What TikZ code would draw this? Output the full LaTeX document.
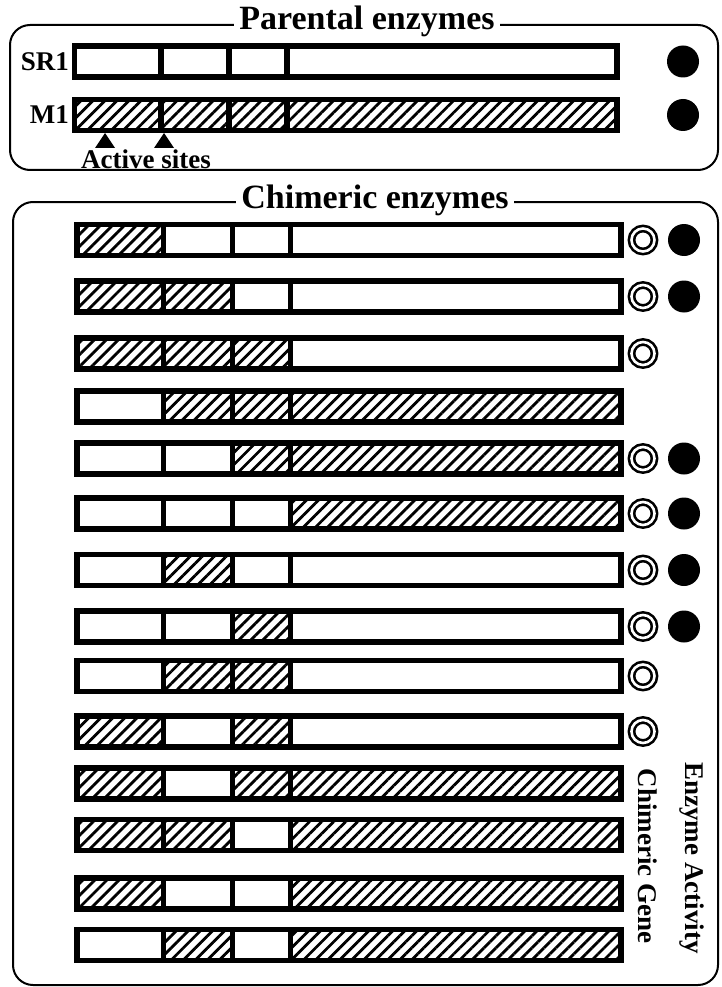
\documentclass[tikz,border=0pt]{standalone}
\usepackage{fontspec}
\setmainfont{Liberation Serif}
\usetikzlibrary{positioning,patterns.meta}

\begin{document}
\begin{tikzpicture}[x=1pt,y=-1pt,font=\bfseries,
seg/.style={draw,line width=5.5pt,minimum height=31pt,inner sep=0pt,outer sep=0pt},
hat/.style={pattern={Lines[angle=45,distance=8.5pt,line width=2.8pt]}},
blank/.style={},
ring/.style={circle,draw,double,double distance=2.6pt,line width=2.6pt,minimum size=23pt,inner sep=0pt},
dot/.style={circle,fill,minimum size=32pt,inner sep=0pt},
panel/.style={rounded corners=20pt,line width=2pt},
title/.style={fill=white,inner xsep=5pt,font=\fontsize{34pt}{40pt}\selectfont\bfseries},
lbl/.style={font=\fontsize{27pt}{32pt}\selectfont\bfseries}]
\useasboundingbox (0,0) rectangle (721,987);

% panels
\draw[panel] (10,25) rectangle (718,170);
\draw[panel] (13,202) rectangle (718,985);
\node[title,anchor=base] (ptitle) at (367,30) {Parental enzymes};
\node[title,anchor=base] (ctitle) at (375,208) {Chimeric enzymes};

% parental genes
\foreach \yc/\s/\name [count=\i] in {61.5/blank/SR1,115/hat/M1} {
\node[seg,\s,minimum width=86.5pt,anchor=west] (p\i-1) at (74.5,\yc) {};
\node[seg,\s,minimum width=68pt,right=0pt of p\i-1] (p\i-2) {};
\node[seg,\s,minimum width=58pt,right=0pt of p\i-2] (p\i-3) {};
\node[seg,\s,minimum width=330pt,right=0pt of p\i-3] (p\i-4) {};
\node[lbl,left=2pt of p\i-1] (pl\i) {\name};
\node[dot] (pd\i) at (683,\yc) {};
}
\fill (95,148) -- (105,133) -- (115,148) -- cycle;
\fill (154,148) -- (164,133) -- (174,148) -- cycle;
\node[lbl,anchor=base] (sites) at (146,168) {Active sites};

% chimeric genes: y / four segments / activity (0 none, 1 ring, 2 ring+dot)
\foreach \yc/\a/\b/\c/\d/\act [count=\i] in {
240/hat/blank/blank/blank/2, 296.5/hat/hat/blank/blank/2,
353.5/hat/hat/hat/blank/1, 406.5/blank/hat/hat/hat/0,
458.5/blank/blank/hat/hat/2, 513.5/blank/blank/blank/hat/2,
570/blank/hat/blank/blank/2, 626.5/blank/blank/hat/blank/2,
676/blank/hat/hat/blank/1, 731.5/hat/blank/hat/blank/1,
783.5/hat/blank/hat/hat/0, 835/hat/hat/blank/hat/0,
893.5/hat/blank/blank/hat/0, 945/blank/hat/blank/hat/0} {
\node[seg,\a,minimum width=86.5pt,anchor=west] (c\i-1) at (77,\yc) {};
\node[seg,\b,minimum width=69pt,right=0pt of c\i-1] (c\i-2) {};
\node[seg,\c,minimum width=58pt,right=0pt of c\i-2] (c\i-3) {};
\node[seg,\d,minimum width=330.5pt,right=0pt of c\i-3] (c\i-4) {};
\ifnum\act>0 \node[ring] (r\i) at (643,\yc) {}; \fi
\ifnum\act>1 \node[dot] (d\i) at (684,\yc) {}; \fi
}
\node[lbl,rotate=-90] (gene) at (648,856) {Chimeric Gene};
\node[lbl,rotate=-90] (activity) at (692,858) {Enzyme Activity};
\end{tikzpicture}
\end{document}
